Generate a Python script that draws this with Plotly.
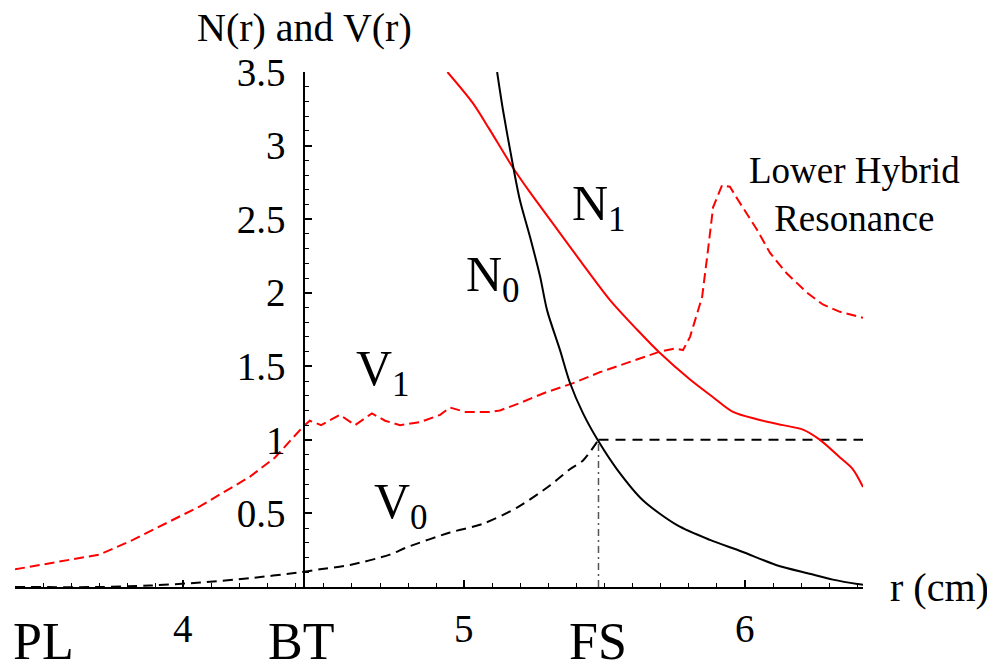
import plotly.graph_objects as go

# ---------------- data ----------------
v1_x = [3.40, 3.525, 3.70, 3.82, 4.06, 4.237, 4.326, 4.426, 4.45, 4.49, 4.557, 4.611, 4.671, 4.718,
        4.771, 4.842, 4.914, 4.949, 5.003, 5.092, 5.127, 5.198, 5.287, 5.394, 5.483, 5.59, 5.697,
        5.75, 5.779, 5.804, 5.847, 5.868, 5.886, 5.918, 5.946, 5.975, 6.042, 6.089, 6.149, 6.221,
        6.277, 6.338, 6.399, 6.42]
v1_y = [0.12, 0.16, 0.22, 0.32, 0.55, 0.75, 0.88, 1.09, 1.13, 1.10, 1.17, 1.10, 1.18, 1.13,
        1.10, 1.12, 1.17, 1.22, 1.19, 1.19, 1.20, 1.25, 1.32, 1.39, 1.46, 1.53, 1.60,
        1.62, 1.61, 1.70, 1.97, 2.29, 2.58, 2.73, 2.72, 2.63, 2.43, 2.27, 2.13, 2.00,
        1.92, 1.87, 1.84, 1.83]

v0_x = [3.40, 3.70, 3.88, 4.06, 4.237, 4.415, 4.486, 4.593, 4.735, 4.796, 4.949, 5.067, 5.188,
        5.305, 5.376, 5.423, 5.478]
v0_y = [0.0, 0.0, 0.01, 0.03, 0.06, 0.10, 0.12, 0.15, 0.22, 0.27, 0.37, 0.43, 0.54,
        0.69, 0.80, 0.86, 1.0]

n0_x = [5.117, 5.138, 5.17, 5.198, 5.234, 5.27, 5.295, 5.341, 5.376, 5.423, 5.478, 5.544,
        5.636, 5.758, 5.875, 5.99, 6.11, 6.23, 6.313, 6.40, 6.42]
n0_y = [3.5, 3.24, 2.90, 2.63, 2.38, 2.11, 1.88, 1.61, 1.39, 1.18, 0.99, 0.80,
        0.59, 0.42, 0.32, 0.24, 0.15, 0.09, 0.05, 0.02, 0.015]

n1_x = [4.94, 5.03, 5.09, 5.17, 5.235, 5.316, 5.412, 5.519, 5.615, 5.697, 5.804, 5.886,
        5.957, 6.042, 6.135, 6.206, 6.267, 6.338, 6.384, 6.42]
n1_y = [3.5, 3.29, 3.11, 2.86, 2.68, 2.47, 2.22, 1.95, 1.75, 1.59, 1.41, 1.29,
        1.19, 1.14, 1.10, 1.07, 1.00, 0.88, 0.80, 0.68]

fs_x = 5.478            # FS position
fs_level = 1.0          # V0 after FS

y_tickvals = [0.5, 1.0, 1.5, 2.0, 2.5, 3.0, 3.5]
y_ticktext = ["0.5", "1", "1.5", "2", "2.5", "3", "3.5"]
x_num_ticks = [4, 5, 6]
x_num_labels = ["4", "5", "6"]
x_name_ticks = [3.5, 4.42, 5.478]
x_name_labels = ["PL", "BT", "FS"]

curve_labels = [("N<sub>1</sub>", 5.375, 2.58), ("N<sub>0</sub>", 5.0, 2.10),
                ("V<sub>1</sub>", 4.608, 1.46), ("V<sub>0</sub>", 4.672, 0.557)]

FONT = "Liberation Serif"
x_range = [3.40, 6.42]
y_range = [0, 3.5]
y_axis_at = 4.43

fig = go.Figure()
fig.add_trace(go.Scatter(x=v1_x, y=v1_y, mode="lines",
                         line=dict(color="#ff0000", width=2, dash="10px,5px")))
fig.add_trace(go.Scatter(x=v0_x, y=v0_y, mode="lines",
                         line=dict(color="black", width=2, dash="10px,6px", shape="spline",
                                   smoothing=0.8)))
fig.add_trace(go.Scatter(x=[fs_x, x_range[1]], y=[fs_level, fs_level], mode="lines",
                         line=dict(color="black", width=2, dash="10px,7px")))
fig.add_trace(go.Scatter(x=n1_x, y=n1_y, mode="lines",
                         line=dict(color="#ff0000", width=2, shape="spline", smoothing=0.8)))
fig.add_trace(go.Scatter(x=n0_x, y=n0_y, mode="lines",
                         line=dict(color="black", width=2, shape="spline", smoothing=0.8)))
fig.add_trace(go.Scatter(x=[fs_x, fs_x], y=[0, fs_level], mode="lines",
                         line=dict(color="#555555", width=1.5, dash="7px,4px,2px,4px")))

ann = []
for v, t in zip(x_num_ticks, x_num_labels):
    ann.append(dict(x=v, y=-0.08, xref="x", yref="paper", text=t, showarrow=False,
                    font=dict(size=39, family=FONT, color="black"),
                    xanchor="center", yanchor="middle"))
for v, t in zip(x_name_ticks, x_name_labels):
    ann.append(dict(x=v, y=-0.105, xref="x", yref="paper", text=t, showarrow=False,
                    font=dict(size=52, family=FONT, color="black"),
                    xanchor="center", yanchor="middle"))
for t, x, y in curve_labels:
    ann.append(dict(x=x, y=y, xref="x", yref="y", text=t, showarrow=False, xanchor="left",
                    yanchor="middle", font=dict(size=50, family=FONT, color="black")))
ann.append(dict(x=6.391, y=2.665, xref="x", yref="y", text="Lower Hybrid<br>Resonance",
                showarrow=False, font=dict(size=37, family=FONT, color="black"),
                align="center", xanchor="center", yanchor="middle"))
ann.append(dict(x=0.341, y=1.087, xref="paper", yref="paper", text="N(r) and V(r)",
                showarrow=False, font=dict(size=40, family=FONT, color="black"),
                xanchor="center", yanchor="middle"))
ann.append(dict(x=1.029, y=0.0, xref="paper", yref="paper", text="r (cm)", xanchor="left",
                yanchor="middle", showarrow=False, font=dict(size=40, family=FONT, color="black")))

fig.update_layout(
    width=995, height=666,
    margin=dict(l=7, r=140, t=64, b=87),
    paper_bgcolor="white", plot_bgcolor="white",
    showlegend=False,
    annotations=ann,
    xaxis=dict(range=x_range, showgrid=False, zeroline=False, showline=True,
               linecolor="black", linewidth=2, ticks="inside", ticklen=7, tickwidth=1.5,
               tickcolor="black", tickmode="array", tickvals=x_num_ticks,
               showticklabels=False,
               minor=dict(dtick=0.1, tick0=4, ticks="inside", ticklen=4, tickwidth=1.2,
                          tickcolor="black", showgrid=False)),
    yaxis=dict(range=y_range, showgrid=False, zeroline=False, showline=True,
               linecolor="black", linewidth=2, anchor="free",
               position=(y_axis_at - x_range[0]) / (x_range[1] - x_range[0]),
               ticks="inside", ticklen=7, tickwidth=1.5, tickcolor="black",
               tickmode="array", tickvals=y_tickvals, ticktext=y_ticktext,
               tickfont=dict(size=39, family=FONT, color="black"),
               ticklabelstandoff=10,
               minor=dict(dtick=0.1, tick0=0, ticks="inside", ticklen=4, tickwidth=1.2,
                          tickcolor="black", showgrid=False)),
)

fig.write_html("out.html")
